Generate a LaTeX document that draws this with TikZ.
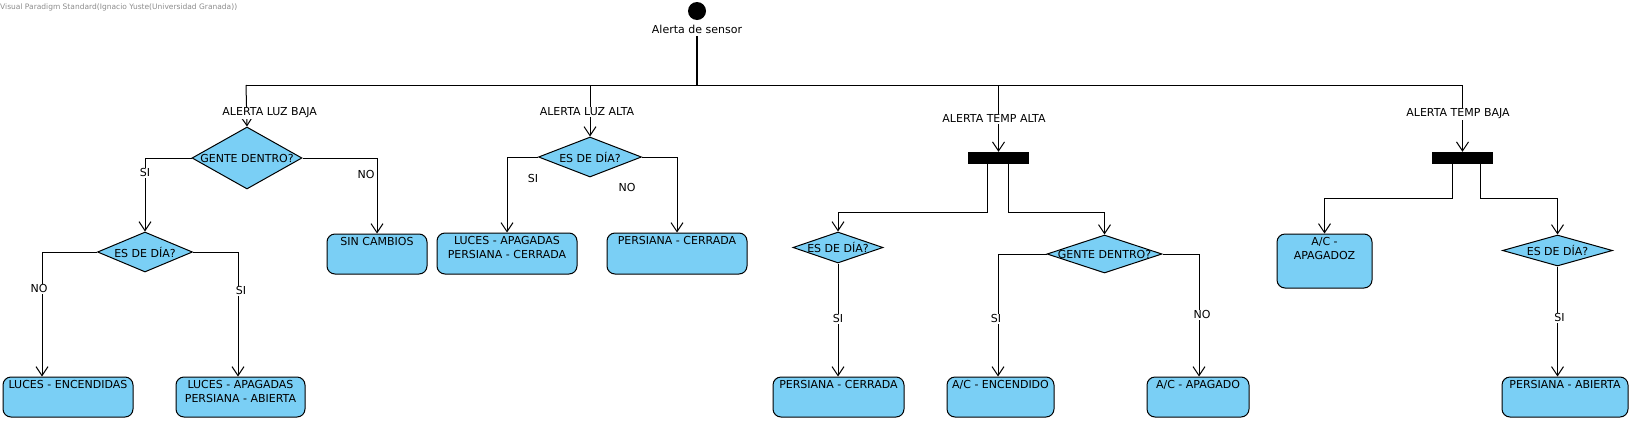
\documentclass[tikz,border=0pt]{standalone}
\usepackage{fontspec}
\setmainfont{DejaVu Sans}
\usetikzlibrary{arrows.meta,shapes.geometric}
\definecolor{actfill}{RGB}{122,207,245}
\newcommand\boxtext[3]{\parbox[c][#2pt][t]{#1pt}{\centering\vspace*{3.5pt}#3}}
\tikzset{
  conn/.style={line width=1pt, draw=black},
  arr/.style={conn, -{Straight Barb[length=9pt,width=12pt,line width=1pt]}},
  actbox/.style={draw=black, line width=1pt, fill=actfill, rounded corners=8pt, inner sep=0pt},
  decision/.style={draw=black, line width=1pt, fill=actfill, diamond, inner sep=0pt},
  forkbar/.style={fill=black, draw=none, inner sep=0pt, minimum width=61pt, minimum height=12pt},
  lbl/.style={fill=white, inner sep=1pt},
  offlbl/.style={inner sep=1pt}
}
\begin{document}
\begin{tikzpicture}[x=1pt,y=-1pt, font=\fontsize{11}{14}\selectfont]
\useasboundingbox (0,0) rectangle (1631,421);
% watermark
\node[anchor=west, inner sep=0pt, text=black!45, font=\fontsize{7.5}{9}\selectfont] (wm) at (0,7) {Visual Paradigm Standard(Ignacio Yuste(Universidad Granada))};
% start
\node[circle, fill=black, minimum size=18pt, inner sep=0pt] (start) at (697,11) {};
\node[inner sep=1pt, fill=white] (startlbl) at (697,29) {Alerta de sensor};
\coordinate (jtop) at (697,36);
\coordinate (j) at (697,85);
\coordinate (bus1) at (246,85);
\coordinate (bus2) at (590,85);
\coordinate (bus3) at (998.5,85);
\coordinate (bus4) at (1462.5,85);
\draw[line width=2pt] (jtop) -- (j);
\draw[conn] (bus1) -- (bus4);

% ---------- branch 1
\node[decision, minimum width=110pt, minimum height=62pt] (g1) at (247,158) {\makebox[0pt]{GENTE DENTRO?}};
\node[decision, minimum width=95pt, minimum height=40pt] (e1) at (145,252) {\makebox[0pt]{ES DE DÍA?}};
\node[actbox] (s1) at (377,254) {\boxtext{100}{40}{SIN CAMBIOS}};
\node[actbox] (l1) at (68,397) {\boxtext{130}{40}{LUCES - ENCENDIDAS}};
\node[actbox] (l2) at (240.5,397) {\boxtext{129}{40}{LUCES - APAGADAS\\PERSIANA - ABIERTA}};
\draw[arr] (bus1) -- node[lbl, pos=0.667, xshift=23pt] {ALERTA LUZ BAJA} (g1.north);
\draw[arr] (g1.west) -| node[lbl, pos=0.60] {SI} (e1.north);
\draw[arr] (g1.east) -| node[lbl, pos=0.61, xshift=-11pt] {NO} (s1.north);
\draw[arr] (e1.west) -| node[lbl, pos=0.648, xshift=-3pt] {NO} ([xshift=-26pt]l1.north);
\draw[arr] (e1.east) -| node[lbl, pos=0.656, xshift=3pt] {SI} ([xshift=-2.5pt]l2.north);

% ---------- branch 2
\node[decision, minimum width=103pt, minimum height=40pt] (e2) at (590,157) {\makebox[0pt]{ES DE DÍA?}};
\node[actbox] (l3) at (507,253.5) {\boxtext{140}{41}{LUCES - APAGADAS\\PERSIANA - CERRADA}};
\node[actbox] (p1) at (677,253.5) {\boxtext{140}{41}{PERSIANA - CERRADA}};
\draw[arr] (bus2) -- node[lbl, pos=0.52, xshift=-3pt] {ALERTA LUZ ALTA} (e2.north);
\draw[arr] (e2.west) -| node[offlbl, pos=0.645, xshift=26pt] {SI} (l3.north);
\draw[arr] (e2.east) -| node[offlbl, pos=0.70, xshift=-50pt] {NO} (p1.north);

% ---------- branch 3
\node[forkbar] (f1) at (998.5,158) {};
\node[decision, minimum width=90pt, minimum height=31pt] (e3) at (838,247.5) {\makebox[0pt]{ES DE DÍA?}};
\node[decision, minimum width=115pt, minimum height=38pt] (g2) at (1104.5,254) {\makebox[0pt]{GENTE DENTRO?}};
\node[actbox] (p2) at (838.5,397) {\boxtext{131}{40}{PERSIANA - CERRADA}};
\node[actbox] (a1) at (1000.5,397) {\boxtext{107}{40}{A/C - ENCENDIDO}};
\node[actbox] (a2) at (1198,397) {\boxtext{102}{40}{A/C - APAGADO}};
\draw[arr] (bus3) -- node[lbl, pos=0.507, xshift=-4.5pt] {ALERTA TEMP ALTA} (f1.north);
\draw[arr] ([xshift=-11.5pt]f1.south) -- ++(0,48) -| (e3.north);
\draw[arr] ([xshift=9.5pt]f1.south) -- ++(0,48) -| (g2.north);
\draw[arr] (e3.south) -- node[lbl, pos=0.49] {SI} (e3.south |- p2.north);
\draw[arr] (g2.west) -| node[lbl, pos=0.764, xshift=-2pt] {SI} ([xshift=-2.5pt]a1.north);
\draw[arr] (g2.east) -| node[lbl, pos=0.748, xshift=3pt] {NO} ([xshift=1pt]a2.north);

% ---------- branch 4
\node[forkbar] (f2) at (1462.5,158) {};
\node[actbox] (a3) at (1324.5,261) {\boxtext{95}{54}{A/C -\\APAGADOZ}};
\node[decision, minimum width=110pt, minimum height=31pt] (e4) at (1557.5,250.5) {\makebox[0pt]{ES DE DÍA?}};
\node[actbox] (p3) at (1565,397) {\boxtext{126}{40}{PERSIANA - ABIERTA}};
\draw[arr] (bus4) -- node[lbl, pos=0.43, xshift=-4.5pt] {ALERTA TEMP BAJA} (f2.north);
\draw[arr] ([xshift=-10.5pt]f2.south) -- ++(0,34) -| (a3.north);
\draw[arr] ([xshift=17.5pt]f2.south) -- ++(0,34) -| (e4.north);
\draw[arr] (e4.south) -- node[lbl, pos=0.468, xshift=2pt] {SI} (e4.south |- p3.north);
\end{tikzpicture}
\end{document}
